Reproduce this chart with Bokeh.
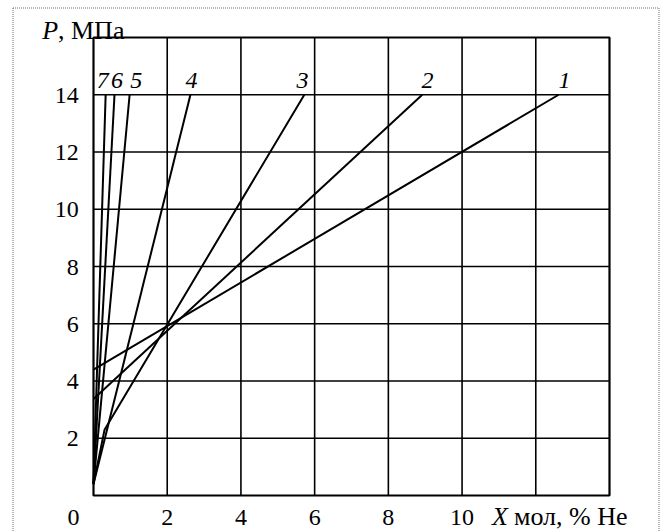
from bokeh.plotting import figure
from bokeh.models import ColumnDataSource, LabelSet, Label, Range1d
from bokeh.embed import file_html
from bokeh.resources import INLINE

# ---------------- data ----------------
x_grid = [2, 4, 6, 8, 10, 12]
y_grid = [2, 4, 6, 8, 10, 12, 14]
x_ticks = [0, 2, 4, 6, 8, 10]
x_tick_labels = ["0", "2", "4", "6", "8", "10"]
y_ticks = [2, 4, 6, 8, 10, 12, 14]
y_tick_labels = ["2", "4", "6", "8", "10", "12", "14"]

curve_names = ["1", "2", "3", "4", "5", "6", "7"]
curve1_x = [0.0, 12.62]
curve1_p = [4.40, 14.0]
curve2_x = [0.0, 8.92]
curve2_p = [3.37, 14.0]
curve3_x = [0.0, 0.30, 5.72]
curve3_p = [0.40, 2.30, 14.0]
curve4_x = [0.0, 2.63]
curve4_p = [0.40, 14.0]
curve5_x = [0.0, 0.98]
curve5_p = [0.40, 14.0]
curve6_x = [0.0, 0.57]
curve6_p = [0.40, 14.0]
curve7_x = [0.0, 0.33]
curve7_p = [0.40, 14.0]
curve_label_x = [12.78, 9.06, 5.67, 2.66, 1.16, 0.64, 0.25]
curve_label_p = [14.0] * 7

X_MIN, X_MAX, P_MIN, P_MAX = 0, 14, 0, 16

# ---------------- layout (pixels) ----------------
W, H = 663, 531
FL, FR, FT, FB = 93, 609, 37, 495          # plot box edges in pixels
kx = (FR - FL) / (X_MAX - X_MIN)
ky = (FB - FT) / (P_MAX - P_MIN)


def dx(px):
    return X_MIN + (px - FL) / kx


def dy(py):
    return P_MIN + (FB - py) / ky


FONT = "Liberation Serif"
BOTTOM_OFF = -29.5    # baseline of the bottom texts, pixels below the plot box

p = figure(width=W, height=H, output_backend="svg", toolbar_location=None,
           x_range=Range1d(dx(0), dx(W)), y_range=Range1d(dy(H), dy(0)),
           x_axis_location=None, y_axis_location=None,
           min_border=0, min_border_left=0, min_border_right=0,
           min_border_top=0, min_border_bottom=0,
           background_fill_color="white", border_fill_color="white")
p.outline_line_color = None
p.xgrid.visible = False
p.ygrid.visible = False

# dotted outer border (its bottom edge lies below the picture, as in the reference)
p.quad(left=[dx(12.5)], right=[dx(658.5)], top=[dy(7.5)], bottom=[dy(545)],
       fill_color=None, line_color="#707070", line_width=1, line_dash="1 1")

# grid
p.segment(x0=x_grid, y0=[P_MIN] * len(x_grid), x1=x_grid, y1=[P_MAX] * len(x_grid),
          line_color="black", line_width=1.6)
p.segment(x0=[X_MIN] * len(y_grid), y0=y_grid, x1=[X_MAX] * len(y_grid), y1=y_grid,
          line_color="black", line_width=1.6)

# curves
curves = [(curve1_x, curve1_p), (curve2_x, curve2_p), (curve3_x, curve3_p),
          (curve4_x, curve4_p), (curve5_x, curve5_p), (curve6_x, curve6_p),
          (curve7_x, curve7_p)]
for cx, cp in curves:
    p.line(cx, cp, line_color="black", line_width=2)

# plot box
p.quad(left=[X_MIN], right=[X_MAX], bottom=[P_MIN], top=[P_MAX],
       fill_color=None, line_color="black", line_width=2.2)

# curve numbers
src_c = ColumnDataSource(dict(x=curve_label_x, y=curve_label_p, t=curve_names))
p.add_layout(LabelSet(x="x", y="y", text="t", source=src_c, y_offset=7,
                      text_align="center", text_baseline="alphabetic",
                      text_font=FONT, text_font_size="24px",
                      text_font_style="italic", text_color="black"))

# y tick labels
src_y = ColumnDataSource(dict(x=[X_MIN] * len(y_ticks), y=y_ticks, t=y_tick_labels))
p.add_layout(LabelSet(x="x", y="y", text="t", source=src_y,
                      x_offset=-14.7, y_offset=-8,
                      text_align="right", text_baseline="alphabetic",
                      text_font=FONT, text_font_size="24px", text_color="black"))

# x tick labels ("0" sits left of the corner, the others under their grid lines)
src_x0 = ColumnDataSource(dict(x=x_ticks[:1], y=[P_MIN], t=x_tick_labels[:1]))
p.add_layout(LabelSet(x="x", y="y", text="t", source=src_x0,
                      x_offset=-20, y_offset=BOTTOM_OFF,
                      text_align="center", text_baseline="alphabetic",
                      text_font=FONT, text_font_size="24px", text_color="black"))
src_x = ColumnDataSource(dict(x=x_ticks[1:], y=[P_MIN] * (len(x_ticks) - 1),
                              t=x_tick_labels[1:]))
p.add_layout(LabelSet(x="x", y="y", text="t", source=src_x,
                      y_offset=BOTTOM_OFF,
                      text_align="center", text_baseline="alphabetic",
                      text_font=FONT, text_font_size="24px", text_color="black"))

# axis titles
p.add_layout(Label(x=X_MIN, y=P_MAX, text="P", x_offset=-51.3, y_offset=7,
                   text_align="left", text_baseline="alphabetic",
                   text_font=FONT, text_font_size="26px",
                   text_font_style="italic", text_color="black"))
p.add_layout(Label(x=X_MIN, y=P_MAX, text=", МПа", x_offset=-35.5, y_offset=7,
                   text_align="left", text_baseline="alphabetic",
                   text_font=FONT, text_font_size="26px", text_color="black"))
src_xt1 = ColumnDataSource(dict(x=[X_MAX], y=[P_MIN], t=["X"]))
p.add_layout(LabelSet(x="x", y="y", text="t", source=src_xt1,
                      x_offset=-117.5, y_offset=BOTTOM_OFF,
                      text_align="left", text_baseline="alphabetic",
                      text_font=FONT, text_font_size="26px",
                      text_font_style="italic", text_color="black"))
src_xt2 = ColumnDataSource(dict(x=[X_MAX], y=[P_MIN], t=["мол, % He"]))
p.add_layout(LabelSet(x="x", y="y", text="t", source=src_xt2,
                      x_offset=-95.5, y_offset=BOTTOM_OFF,
                      text_align="left", text_baseline="alphabetic",
                      text_font=FONT, text_font_size="26px", text_color="black"))

open("out.html", "w").write(file_html(p, INLINE))
